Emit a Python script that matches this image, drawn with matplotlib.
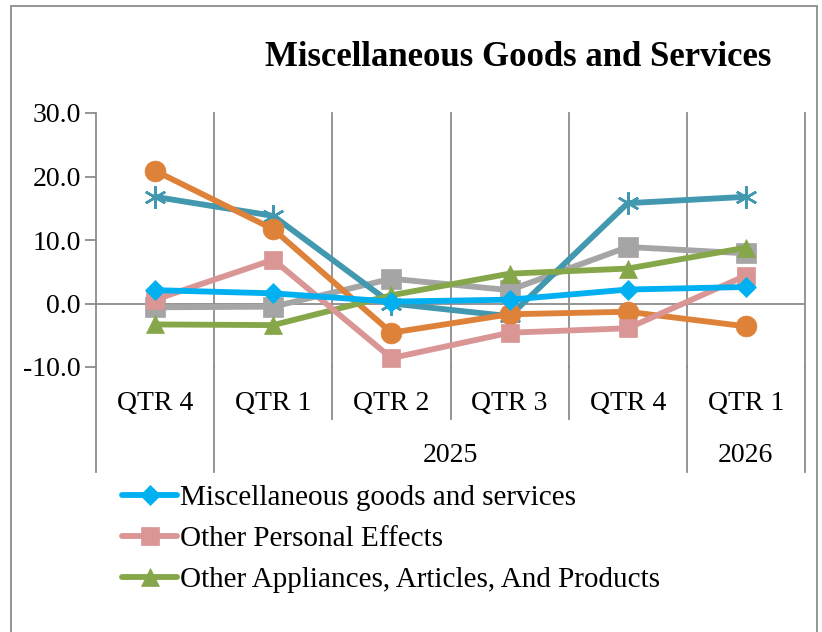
import matplotlib
matplotlib.use("Agg")
import matplotlib.pyplot as plt
from matplotlib.patches import Rectangle
from matplotlib.transforms import blended_transform_factory

plt.rcParams["font.family"] = ["Liberation Serif", "DejaVu Serif"]

# ---- data ----
quarters = ["QTR 4", "QTR 1", "QTR 2", "QTR 3", "QTR 4", "QTR 1"]
years = ["", "2025", "2026"]
year_spans = [(0, 0), (1, 4), (5, 5)]

misc_goods = [2.1, 1.6, 0.3, 0.6, 2.2, 2.6]
personal_effects = [0.6, 6.9, -8.6, -4.6, -3.9, 4.4]
appliances = [-3.3, -3.4, 1.3, 4.7, 5.5, 8.8]
series4 = [20.9, 11.7, -4.6, -1.7, -1.3, -3.6]
series5 = [16.8, 13.8, 0.0, -2.0, 15.8, 16.8]
series6 = [-0.6, -0.5, 3.9, 2.1, 8.9, 7.9]

names = ["Miscellaneous goods and services", "Other Personal Effects",
         "Other Appliances, Articles, And Products", "_s4", "_s5", "_s6"]
values = [misc_goods, personal_effects, appliances, series4, series5, series6]
colors = ["#00B0F0", "#D99694", "#86A64A", "#DE8139", "#4198AF", "#A5A5A5"]
markers = ["D", "s", "^", "o", (6, 2, 0), "s"]
msizes = [10, 13, 13, 15, 16, 14]

W, H = 822, 632
fig = plt.figure(figsize=(W / 100, H / 100), dpi=100)

# chart border (bottom is cut off in the reference)
fig.patches.append(Rectangle((11 / W, -0.05), (817 - 11) / W, 1.05 - 6 / H,
                             transform=fig.transFigure, fill=False,
                             edgecolor="#8c8c8c", linewidth=1.3))

left, right, top, bottom = 96, 805, 113, 367
ax = fig.add_axes([left / W, 1 - bottom / H, (right - left) / W, (bottom - top) / H])

grid_c = "#8c8c8c"
x = list(range(len(quarters)))

for xv in [i + 0.5 for i in x]:
    ax.axvline(xv, color=grid_c, linewidth=1.3, zorder=1, clip_on=False)
ax.axhline(0, color=grid_c, linewidth=1.3, zorder=1)

order = [5, 4, 3, 2, 1, 0]
for k in order:
    ax.plot(x, values[k], color=colors[k], linewidth=4.2, marker=markers[k],
            markersize=msizes[k], markeredgecolor=colors[k],
            markeredgewidth=1.8 if k == 4 else 0.5, label=names[k],
            zorder=3 + (5 - k), solid_capstyle="round")

ax.set_xlim(-0.5, len(quarters) - 0.5)
ax.set_ylim(-10, 30)
ax.set_yticks([-10, 0, 10, 20, 30])
ax.set_yticklabels([f"{v:.1f}" for v in [-10, 0, 10, 20, 30]])
ax.set_xticks([])
for s in ["top", "right", "bottom"]:
    ax.spines[s].set_visible(False)
ax.spines["left"].set_color(grid_c)
ax.spines["left"].set_linewidth(1.3)
ax.tick_params(axis="y", length=8, width=1.3, color=grid_c, labelsize=20, pad=3)

# multi-level category axis below the plot area
tr = blended_transform_factory(ax.transData, fig.transFigure)
short_y = 1 - 419 / H
long_y = 1 - 472 / H
axis_y = 1 - bottom / H
for i, q in enumerate(quarters):
    ax.text(i, 1 - 403 / H, q, transform=tr, ha="center", va="center", fontsize=20)
long_seps = {-0.5, len(quarters) - 0.5}
for a, b in year_spans:
    long_seps.add(a - 0.5)
    long_seps.add(b + 0.5)
for sx in [i - 0.5 for i in range(len(quarters) + 1)]:
    end = long_y if sx in long_seps else short_y
    ax.plot([sx, sx], [axis_y, end], transform=tr, color=grid_c,
            linewidth=1.3, clip_on=False)
for yr, (a, b) in zip(years, year_spans):
    ax.text((a + b) / 2, 1 - 455 / H, yr, transform=tr, ha="center",
            va="center", fontsize=20)

fig.text(518 / W, 1 - 57 / H, "Miscellaneous Goods and Services",
         ha="center", va="center", fontsize=25, fontweight="bold")

handles, labels = ax.get_legend_handles_labels()
pairs = sorted(zip(handles, labels), key=lambda p: names.index(p[1]))
fig.legend([p[0] for p in pairs], [p[1] for p in pairs],
           loc="upper left", bbox_to_anchor=(122 / W, 1 - 485 / H),
           frameon=False, fontsize=21, handlelength=1.9, handletextpad=0.1,
           labelspacing=0.5, borderaxespad=0, borderpad=0)

fig.savefig("out.png", dpi=100)
